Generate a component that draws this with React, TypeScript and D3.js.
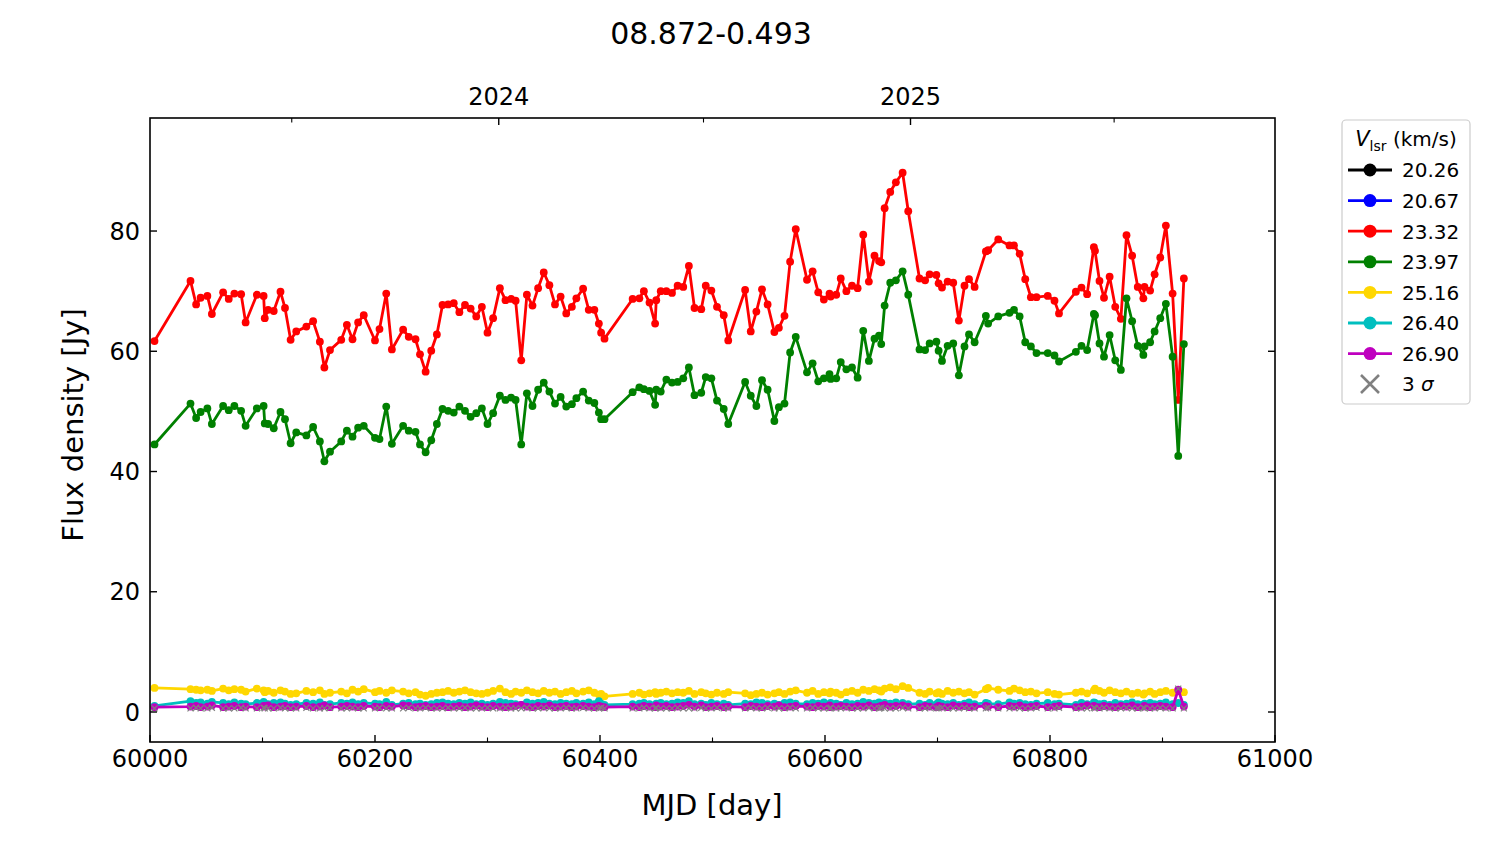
import React from 'react';
import * as d3 from 'd3';

// observation dates (MJD)
const DATES = [
  60004, 60036, 60041, 60045, 60051, 60055, 60065, 60070, 60075, 60081,
  60085, 60095, 60101, 60102, 60105, 60110, 60116, 60120, 60125, 60130,
  60139, 60145, 60151, 60155, 60160, 60170, 60175, 60180, 60185, 60190,
  60200, 60204, 60210, 60215, 60225, 60230, 60236, 60240, 60245, 60250,
  60255, 60260, 60265,
  60270, 60275, 60280, 60285, 60290, 60295, 60300, 60305, 60311, 60316,
  60321, 60325, 60330, 60335, 60340, 60345, 60350, 60355, 60360, 60365,
  60370, 60375, 60379, 60385, 60390, 60395, 60399, 60401, 60404,
  60429, 60435, 60439, 60444, 60449, 60450, 60454, 60459, 60464, 60469,
  60474, 60479, 60484, 60490, 60494, 60499, 60504, 60510, 60514,
  60529, 60534, 60539, 60544, 60549, 60555, 60559, 60564, 60569, 60574,
  60584, 60589, 60594, 60599, 60604, 60605, 60610, 60614, 60619, 60624,
  60629, 60634, 60639, 60644, 60648, 60650, 60653, 60658, 60663, 60669, 60674,
  60684, 60689, 60693, 60699, 60701, 60704, 60709, 60714, 60719, 60724, 60728, 60733,
  60743, 60745, 60754, 60764, 60768, 60773, 60778, 60783, 60788, 60798,
  60804, 60808, 60823, 60828, 60833, 60839, 60840, 60844, 60848, 60853,
  60858, 60863, 60868, 60873, 60878, 60883, 60884, 60889, 60893, 60898,
  60903, 60909, 60914, 60919,
];

// flux density [Jy] per velocity channel
const F2332 = [
  61.7, 71.7, 67.8, 68.9, 69.2, 66.2, 69.8, 68.7, 69.6, 69.5,
  64.8, 69.4, 69.2, 65.5, 66.9, 66.7, 69.9, 67.2, 61.9, 63.3,
  64.1, 65.0, 61.6, 57.3, 60.2, 61.9, 64.4, 62.0, 64.8, 66.0,
  61.8, 63.7, 69.6, 60.3, 63.6, 62.4, 62.0, 59.5, 56.6, 60.1,
  62.8, 67.7, 67.8,
  68.0, 66.5, 67.7, 67.1, 65.8, 67.4, 63.1, 65.5, 70.5, 68.5,
  68.7, 68.4, 58.5, 69.4, 67.6, 70.5, 73.1, 71.0, 67.8, 69.1,
  66.3, 67.4, 68.8, 70.4, 66.9, 66.9, 64.6, 63.1, 62.1,
  68.7, 68.8, 70.0, 68.1, 64.6, 68.5, 70.0, 70.0, 69.7, 70.9,
  70.7, 74.2, 67.2, 67.0, 70.9, 70.1, 67.4, 66.0, 61.8,
  70.2, 63.3, 66.6, 70.3, 67.8, 63.2, 63.9, 65.9, 74.9, 80.3,
  71.9, 73.3, 69.8, 68.6, 69.6, 69.1, 69.4, 72.1, 70.0, 70.9,
  70.5, 79.4, 71.6, 75.9, 75.0, 74.8, 83.8, 86.5, 88.1, 89.7, 83.3,
  72.1, 71.8, 72.8, 72.7, 71.3, 70.6, 71.6, 71.4, 65.1, 70.9, 72.0, 70.7,
  76.6, 76.8, 78.6, 77.6, 77.6, 76.2, 72.0, 69.0, 69.0, 69.2,
  68.4, 66.3, 69.9, 70.6, 69.5, 77.3, 76.7, 71.7, 68.9, 72.4,
  67.4, 65.4, 79.3, 75.9, 70.7, 68.8, 70.7, 70.1, 72.8, 75.6,
  80.9, 69.6, 51.9, 72.1,
];

const F2397 = [
  44.5, 51.3, 48.9, 49.9, 50.5, 47.9, 50.9, 50.2, 50.9, 50.1,
  47.6, 50.5, 50.9, 48.0, 47.9, 47.2, 49.9, 48.7, 44.7, 46.5,
  46.0, 47.4, 45.0, 41.7, 43.3, 45.0, 46.8, 45.8, 47.3, 47.6,
  45.6, 45.4, 50.8, 44.6, 47.6, 46.8, 46.6, 44.5, 43.2, 45.2,
  47.9, 50.4, 50.1,
  49.8, 50.8, 50.1, 49.1, 49.7, 50.5, 47.9, 49.7, 52.6, 51.9,
  52.3, 51.9, 44.5, 53.0, 50.9, 53.6, 54.8, 53.3, 51.3, 52.4,
  50.8, 51.2, 52.2, 53.3, 51.8, 51.4, 49.8, 48.7, 48.7,
  53.2, 54.0, 53.7, 53.4, 51.1, 53.6, 53.3, 55.3, 54.8, 54.9,
  55.5, 57.3, 52.7, 53.1, 55.7, 55.5, 51.8, 50.4, 47.9,
  54.9, 52.6, 50.9, 55.2, 53.6, 48.4, 50.7, 51.3, 59.8, 62.4,
  56.5, 58.0, 55.0, 55.5, 56.2, 55.4, 55.5, 58.2, 57.0, 57.3,
  55.6, 63.4, 58.4, 62.1, 62.6, 61.2, 67.6, 71.4, 71.8, 73.3, 69.4,
  60.3, 60.2, 61.3, 61.6, 60.1, 58.4, 60.9, 61.3, 56.0, 60.8, 62.8, 61.5,
  65.9, 64.6, 65.8, 66.4, 66.9, 65.8, 61.5, 60.8, 59.7, 59.7,
  59.3, 58.3, 59.9, 60.9, 60.2, 66.2, 66.0, 61.3, 59.1, 62.7,
  58.5, 56.9, 68.8, 65.0, 60.9, 59.4, 60.8, 61.5, 63.3, 65.5,
  67.9, 59.1, 42.6, 61.2,
];

const F2516 = [
  4.0, 3.8, 3.7, 3.6, 3.7, 3.5, 3.9, 3.6, 3.8, 3.7,
  3.4, 3.9, 3.6, 3.3, 3.5, 3.2, 3.6, 3.4, 3.0, 3.1,
  3.5, 3.3, 3.6, 3.0, 3.2, 3.4, 3.1, 3.7, 3.4, 3.8,
  3.3, 3.5, 3.2, 3.6, 3.4, 3.1, 3.3, 2.9, 2.7, 3.0,
  3.2, 3.3, 3.5,
  3.2, 3.4, 3.6, 3.3, 3.1, 3.0, 3.2, 3.5, 3.9, 3.3,
  3.0, 3.4, 3.2, 3.6, 3.3, 3.1, 3.5, 3.2, 3.4, 3.0,
  3.3, 3.5, 3.1, 3.4, 3.6, 3.2, 2.9, 3.0, 2.6,
  3.0, 3.2, 2.9, 3.1, 3.3, 3.0, 3.2, 3.4, 3.1, 3.3,
  3.2, 3.5, 3.0, 3.3, 3.1, 2.9, 3.2, 3.0, 3.3,
  3.1, 2.8, 3.0, 3.2, 2.9, 3.1, 3.3, 3.0, 3.4, 3.6,
  3.2, 3.5, 3.0, 3.3, 3.1, 3.4, 3.2, 2.9, 3.3, 3.5,
  3.2, 3.7, 3.5, 3.8, 3.6, 3.4, 3.9, 4.1, 3.8, 4.3, 4.0,
  3.2, 3.0, 3.4, 3.1, 3.3, 3.0, 3.5, 3.2, 3.4, 3.1, 3.3, 2.9,
  3.8, 4.0, 3.7, 3.5, 3.9, 3.6, 3.3, 3.4, 3.1, 3.3,
  3.0, 2.9, 3.2, 3.4, 3.1, 3.6, 3.9, 3.5, 3.2, 3.6,
  3.3, 3.1, 3.4, 3.0, 3.2, 2.9, 3.1, 3.4, 3.0, 3.3,
  3.5, 3.2, 3.6, 3.3,
];

const F2640 = [
  1.0, 1.8, 1.5, 1.6, 1.4, 1.7, 1.5, 1.3, 1.6, 1.4,
  1.3, 1.5, 1.7, 1.4, 1.3, 1.5, 1.6, 1.4, 1.2, 1.3,
  1.5, 1.4, 1.6, 1.2, 1.3, 1.5, 1.4, 1.6, 1.3, 1.5,
  1.4, 1.3, 1.7, 1.2, 1.4, 1.5, 1.3, 1.4, 1.2, 1.3,
  1.5, 1.6, 1.4,
  1.3, 1.5, 1.4, 1.6, 1.3, 1.4, 1.2, 1.4, 1.7, 1.5,
  1.4, 1.3, 1.2, 1.6, 1.4, 1.5, 1.7, 1.4, 1.3, 1.5,
  1.4, 1.3, 1.5, 1.4, 1.6, 1.3, 1.8, 1.4, 1.2,
  1.3, 1.4, 1.5, 1.3, 1.2, 1.4, 1.5, 1.3, 1.4, 1.6,
  1.5, 1.8, 1.3, 1.4, 1.2, 1.5, 1.3, 1.4, 1.2,
  1.4, 1.3, 1.6, 1.5, 1.3, 1.4, 1.2, 1.5, 1.6, 1.4,
  1.3, 1.5, 1.4, 1.6, 1.3, 1.5, 1.4, 1.2, 1.5, 1.3,
  1.4, 1.7, 1.5, 1.4, 1.6, 1.3, 1.5, 1.4, 1.6, 1.5, 1.3,
  1.4, 1.2, 1.5, 1.3, 1.6, 1.4, 1.3, 1.5, 1.2, 1.4, 1.6, 1.3,
  1.5, 1.4, 1.3, 1.6, 1.4, 1.5, 1.3, 1.2, 1.4, 1.5,
  1.3, 1.4, 1.2, 1.5, 1.3, 1.6, 1.5, 1.3, 1.4, 1.2,
  1.5, 1.3, 1.4, 1.6, 1.3, 1.2, 1.4, 1.5, 1.3, 1.4,
  1.6, 1.3, 1.5, 1.2,
];

const F2690 = [
  0.8, 0.9, 1.0, 0.8, 0.9, 1.1, 0.8, 0.9, 1.0, 0.8,
  0.9, 0.8, 1.0, 0.9, 1.1, 0.8, 0.9, 1.0, 0.8, 0.9,
  1.0, 0.8, 0.9, 1.1, 0.8, 0.9, 1.0, 0.9, 0.8, 1.0,
  0.9, 0.8, 1.0, 0.9, 1.1, 1.0, 0.8, 0.9, 1.0, 0.8,
  0.9, 1.0, 0.8,
  0.9, 1.0, 0.8, 0.9, 1.1, 0.9, 0.8, 1.0, 0.9, 0.8,
  0.9, 1.0, 1.2, 0.9, 0.8, 1.0, 0.9, 1.1, 0.8, 0.9,
  1.0, 0.8, 0.9, 1.0, 0.9, 0.8, 1.0, 0.9, 0.8,
  0.9, 0.8, 1.0, 0.9, 0.8, 1.1, 0.9, 1.0, 0.8, 0.9,
  1.0, 1.2, 0.9, 1.1, 0.8, 0.9, 1.0, 0.8, 0.9,
  0.8, 1.0, 0.9, 0.8, 1.0, 0.9, 1.1, 0.8, 0.9, 1.0,
  0.9, 0.8, 1.0, 0.9, 1.1, 0.8, 0.9, 1.0, 0.9, 0.8,
  1.0, 0.9, 1.1, 0.8, 0.9, 1.0, 1.2, 0.9, 1.0, 1.1, 0.9,
  0.8, 1.0, 0.9, 0.8, 1.0, 0.9, 0.8, 1.1, 0.9, 1.0, 0.8, 0.9,
  1.0, 0.9, 0.8, 1.0, 0.9, 1.1, 0.8, 0.9, 1.0, 0.8,
  0.9, 1.0, 0.8, 0.9, 1.1, 1.0, 0.9, 0.8, 1.0, 0.9,
  0.8, 1.0, 0.9, 1.1, 0.8, 0.9, 1.0, 0.8, 0.9, 1.0,
  0.9, 0.8, 3.7, 0.9,
];

// 3 sigma upper limits for the undetected channels (20.26, 20.67)
const SIGMA3 = [
  0.6, 0.6, 0.7, 0.6, 0.6, 0.7, 0.6, 0.6, 0.6, 0.7,
  0.6, 0.6, 0.7, 0.6, 0.6, 0.6, 0.7, 0.6, 0.6, 0.6,
  0.7, 0.6, 0.6, 0.6, 0.7, 0.6, 0.6, 0.7, 0.6, 0.6,
  0.6, 0.7, 0.6, 0.6, 0.6, 0.7, 0.6, 0.6, 0.7, 0.6,
  0.6, 0.6, 0.7, 0.6, 0.6, 0.7, 0.6, 0.6, 0.6, 0.7,
  0.6, 0.6, 0.7, 0.6, 0.6, 0.6, 0.7, 0.6, 0.6, 0.7,
  0.6, 0.6, 0.6, 0.7, 0.6, 0.6, 0.7, 0.6, 0.6, 0.6,
  0.7, 0.6, 0.6, 0.6, 0.7, 0.6, 0.6, 0.7, 0.6, 0.6,
  0.6, 0.7, 0.6, 0.6, 0.6, 0.7, 0.6, 0.6, 0.7, 0.6,
  0.6, 0.6, 0.7, 0.6, 0.6, 0.7, 0.6, 0.6, 0.6, 0.7,
  0.6, 0.6, 0.7, 0.6, 0.6, 0.6, 0.7, 0.6, 0.6, 0.7,
  0.6, 0.6, 0.6, 0.7, 0.6, 0.6, 0.7, 0.6, 0.6, 0.6,
  0.7, 0.6, 0.6, 0.6, 0.7, 0.6, 0.6, 0.7, 0.6, 0.6,
  0.6, 0.7, 0.6, 0.6, 0.6, 0.7, 0.6, 0.6, 0.7, 0.6,
  0.6, 0.6, 0.7, 0.6, 0.6, 0.7, 0.6, 0.6, 0.6, 0.7,
  0.6, 0.6, 0.7, 0.6, 0.6, 0.6, 0.7, 0.6, 0.6, 0.7,
  0.6, 0.6, 0.6, 0.7, 0.6, 0.6, 3.9, 0.6,
];

const VLSR_LABELS = ['20.26', '20.67', '23.32', '23.97', '25.16', '26.40', '26.90'];
const VLSR_COLORS = ['#000000', '#0000ff', '#ff0000', '#008000', '#ffd700', '#00bfbf', '#bf00bf'];
const VLSR_VALUES: (number[] | null)[] = [null, null, F2332, F2397, F2516, F2640, F2690];

const X_TICKS = [60000, 60200, 60400, 60600, 60800, 61000];
const X_MINOR = [60100, 60300, 60500, 60700, 60900];
const Y_TICKS = [0, 20, 40, 60, 80];
const YEARS = [2024, 2025];

const TITLE = '08.872-0.493';
const FONT = '"DejaVu Sans", sans-serif';

const toMJD = (d: number) => (d - Date.UTC(1858, 10, 17)) / 86400000;

export default function App() {
  const W = 1500, H = 844;
  const L = 150, R = 1275, T = 118, B = 742;

  const x = d3.scaleLinear().domain([60000, 61000]).range([L, R]);
  const y = d3.scaleLinear().domain([-4.99, 98.8]).range([B, T]);

  const line = d3.line<[number, number]>().x(d => x(d[0])).y(d => y(d[1]));

  const yearTicks = YEARS.map(yr => toMJD(Date.UTC(yr, 0, 1)));
  const halfTicks = [2023, 2024, 2025].map(yr => toMJD(Date.UTC(yr, 6, 1)))
    .filter(m => m > 60000 && m < 61000);

  const major = 7, minor = 4.5;

  return (
    <svg width={W} height={H} style={{ position: 'absolute', left: 0, top: 0, background: '#fff' }}
      fontFamily={FONT}>
      <rect x={0} y={0} width={W} height={H} fill="#fff" />
      <defs>
        <clipPath id="plotclip">
          <rect x={L} y={T} width={R - L} height={B - T} />
        </clipPath>
      </defs>

      {/* series */}
      <g clipPath="url(#plotclip)">
        {VLSR_VALUES.map((vals, si) => {
          if (!vals) return null;
          const pts: [number, number][] = DATES.map((d, i) => [d, vals[i]]);
          return (
            <g key={si}>
              <path d={line(pts) || ''} fill="none" stroke={VLSR_COLORS[si]} strokeWidth={2.8}
                strokeLinejoin="round" />
              {pts.map((p, i) => (
                <circle key={i} cx={x(p[0])} cy={y(p[1])} r={3.9} fill={VLSR_COLORS[si]} />
              ))}
            </g>
          );
        })}
        {DATES.map((d, i) => {
          const cx = x(d), cy = y(SIGMA3[i]), s = 3;
          return (
            <path key={i} d={`M${cx - s},${cy - s}L${cx + s},${cy + s}M${cx - s},${cy + s}L${cx + s},${cy - s}`}
              stroke="#808080" strokeWidth={1.2} fill="none" />
          );
        })}
      </g>

      {/* frame */}
      <rect x={L} y={T} width={R - L} height={B - T} fill="none" stroke="#000" strokeWidth={1.6} />

      {/* bottom x ticks (MJD) */}
      {X_TICKS.map(t => (
        <g key={t}>
          <line x1={x(t)} x2={x(t)} y1={B} y2={B - major} stroke="#000" strokeWidth={1.4} />
          <text x={x(t)} y={767} fontSize={24} textAnchor="middle">{t}</text>
        </g>
      ))}
      {X_MINOR.map(t => (
        <line key={t} x1={x(t)} x2={x(t)} y1={B} y2={B - minor} stroke="#000" strokeWidth={1.1} />
      ))}

      {/* top axis: calendar years */}
      {yearTicks.map((m, i) => (
        <g key={m}>
          <line x1={x(m)} x2={x(m)} y1={T} y2={T + major} stroke="#000" strokeWidth={1.4} />
          <text x={x(m)} y={105} fontSize={24} textAnchor="middle">{YEARS[i]}</text>
        </g>
      ))}
      {halfTicks.map(m => (
        <line key={m} x1={x(m)} x2={x(m)} y1={T} y2={T + minor} stroke="#000" strokeWidth={1.1} />
      ))}

      {/* y ticks */}
      {Y_TICKS.map(t => (
        <g key={t}>
          <line x1={L} x2={L + major} y1={y(t)} y2={y(t)} stroke="#000" strokeWidth={1.4} />
          <line x1={R} x2={R - major} y1={y(t)} y2={y(t)} stroke="#000" strokeWidth={1.4} />
          <text x={140} y={y(t) + 8.7} fontSize={24} textAnchor="end">{t}</text>
        </g>
      ))}

      {/* labels */}
      <text x={711} y={44} fontSize={30} textAnchor="middle">{TITLE}</text>
      <text x={712} y={815} fontSize={29} textAnchor="middle">MJD [day]</text>
      <text transform="translate(83,425) rotate(-90)" fontSize={29} textAnchor="middle">Flux density [Jy]</text>

      {/* legend */}
      <g>
        <rect x={1342} y={120} width={128} height={284} rx={4} fill="#fff" fillOpacity={0.8}
          stroke="#cccccc" strokeWidth={1.2} />
        <text x={1406} y={146} fontSize={20} textAnchor="middle">
          <tspan fontStyle="italic" fontSize={21}>V</tspan>
          <tspan dy={5} fontSize={14}>lsr</tspan>
          <tspan dy={-5}> (km/s)</tspan>
        </text>
        {VLSR_LABELS.map((lab, i) => {
          const cy = 170 + i * 30.6;
          return (
            <g key={lab}>
              <line x1={1348} x2={1392} y1={cy} y2={cy} stroke={VLSR_COLORS[i]} strokeWidth={2.8} />
              <circle cx={1370} cy={cy} r={6.5} fill={VLSR_COLORS[i]} />
              <text x={1402} y={cy + 7.3} fontSize={20}>{lab}</text>
            </g>
          );
        })}
        <g>
          <path d="M1361,375L1379,393M1361,393L1379,375" stroke="#808080" strokeWidth={2.6} fill="none" />
          <text x={1402} y={391} fontSize={20}>3 <tspan fontStyle="italic">σ</tspan></text>
        </g>
      </g>
    </svg>
  );
}
